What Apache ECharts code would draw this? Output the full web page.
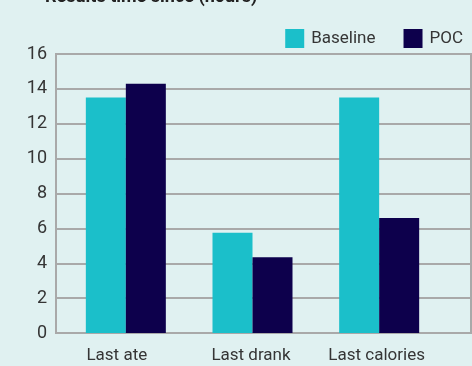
<!DOCTYPE html>
<html>
<head>
<meta charset="utf-8">
<script src="https://cdn.jsdelivr.net/npm/echarts@6/dist/echarts.min.js"></script>
<style>
html,body{margin:0;padding:0;background:#e0f1f1;}
#main{width:472px;height:366px;}
</style>
</head>
<body>
<div id="main"></div>
<script>
var categories = ['Last ate', 'Last drank', 'Last calories'];
var baseline = [13.5, 5.75, 13.5];
var poc = [14.3, 4.35, 6.6];
var yTicks = [0, 16, 2];

var txt = '#353535';
var lineCol = '#a9a9a9';
var font = 'Roboto';
// labels in the original sit a little left of their bar pairs
var labelShift = [18, 3, 5];

var myChart = echarts.init(document.getElementById('main'));
var catData = categories.map(function (c, i) {
    return {value: c, textStyle: {padding: [0, labelShift[i], 0, 0]}};
});
var option = {
    backgroundColor: '#e0f1f1',
    animation: false,
    title: {
        text: 'Results time since (hours)',
        left: 40,
        top: -17,
        textStyle: {fontFamily: font, fontWeight: 'bold', fontSize: 18, color: '#222'}
    },
    legend: {
        right: 4,
        top: 24,
        itemWidth: 19,
        itemHeight: 19,
        itemGap: 28,
        icon: 'rect',
        textStyle: {fontFamily: font, fontSize: 17, color: txt, padding: [0, 0, 0, 2]},
        data: ['Baseline', 'POC']
    },
    grid: [
        {left: 56, right: 1, top: 54, bottom: 33, show: true, borderColor: lineCol, borderWidth: 2},
        {left: 62.5, width: 380, top: 54, bottom: 33}
    ],
    xAxis: [
        {gridIndex: 0, type: 'category', data: categories, show: false},
        {
            gridIndex: 1, type: 'category', data: catData,
            axisLine: {show: false}, axisTick: {show: false},
            axisLabel: {fontFamily: font, fontSize: 17, color: txt, margin: 14}
        }
    ],
    yAxis: [
        {
            gridIndex: 0, type: 'value', min: yTicks[0], max: yTicks[1], interval: yTicks[2],
            axisLine: {show: true, lineStyle: {color: lineCol, width: 2}},
            axisTick: {show: false},
            splitLine: {lineStyle: {color: lineCol, width: 2}},
            axisLabel: {fontFamily: font, fontSize: 18, color: txt, margin: 9, padding: [5, 0, 0, 0]}
        },
        {gridIndex: 1, type: 'value', min: yTicks[0], max: yTicks[1], show: false, splitLine: {show: false}}
    ],
    series: [
        {name: 'Baseline', type: 'bar', xAxisIndex: 1, yAxisIndex: 1, data: baseline,
         barWidth: 40, barGap: '0%', itemStyle: {color: '#1bbfca'}},
        {name: 'POC', type: 'bar', xAxisIndex: 1, yAxisIndex: 1, data: poc,
         barWidth: 40, barGap: '0%', itemStyle: {color: '#0d004c'}}
    ]
};
myChart.setOption(option);
</script>
</body>
</html>
